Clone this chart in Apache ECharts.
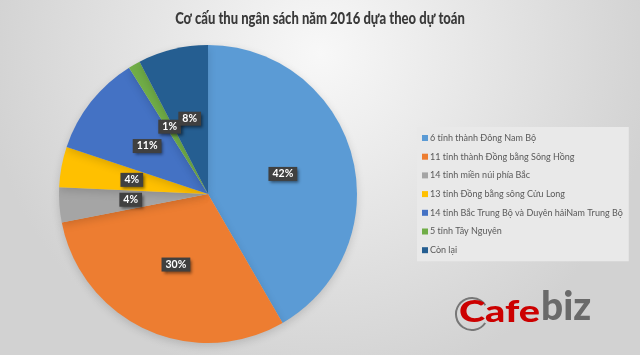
<!DOCTYPE html>
<html>
<head>
<meta charset="utf-8">
<script src="https://cdn.jsdelivr.net/npm/echarts@6/dist/echarts.min.js"></script>
<style>
html,body{margin:0;padding:0;}
#c{width:640px;height:355px;}
</style>
</head>
<body>
<div id="c"></div>
<script>
var titleText = 'Cơ cấu thu ngân sách năm 2016 dựa theo dự toán';
var categories = [
  '6 tỉnh thành Đông Nam Bộ',
  '11 tỉnh thành Đồng bằng Sông Hồng',
  '14 tỉnh miền núi phía Bắc',
  '13 tỉnh Đồng bằng sông Cửu Long',
  '14 tỉnh Bắc Trung Bộ và Duyên hảiNam Trung Bộ',
  '5 tỉnh Tây Nguyên',
  'Còn lại'
];
var values = [41.7, 30.3, 3.8, 4.4, 11.0, 1.3, 7.6];
var colors = ['#5B9BD5', '#ED7D31', '#A5A5A5', '#FFC000', '#4472C4', '#70AD47', '#255E91'];

var font = 'Lato, "Open Sans", sans-serif';
var chart = echarts.init(document.getElementById('c'), null, {renderer: 'canvas'});
chart.setOption({
  backgroundColor: {
    type: 'radial', x: 0.5, y: 0.15, r: 0.95,
    colorStops: [{offset: 0, color: '#f8f8f8'}, {offset: 1, color: '#d2d2d2'}]
  },
  animation: false,
  legend: {
    orient: 'vertical', left: 417, top: 127,
    backgroundColor: '#e9e9e9', padding: [5, 6, 5, 5],
    itemWidth: 6, itemHeight: 6, itemGap: 6.7, icon: 'rect',
    textStyle: {fontFamily: font, fontSize: 9, lineHeight: 12, color: '#595959', padding: [0, 0, 0, -3]},
    data: categories
  },
  graphic: [
    {type: 'text', x: 320, y: 19, scaleX: 0.79,
     style: {text: titleText, textAlign: 'center', textVerticalAlign: 'middle',
              fontFamily: font, fontSize: 16.5, fontWeight: 900, fill: '#3a3a3a'}},
    {type: 'arc', shape: {cx: 472, cy: 314, r: 16, startAngle: 0.6, endAngle: 5.7}, style: {fill: 'none', stroke: '#777', lineWidth: 2}},
    {type: 'text', x: 459, y: 312, scaleX: 1.32,
     style: {text: 'Cafe', textVerticalAlign: 'middle', fontFamily: font, fontSize: 30, fontWeight: 900, fill: '#cc0000'}},
    {type: 'text', x: 541, y: 307, scaleX: 0.97,
     style: {text: 'biz', textVerticalAlign: 'middle', fontFamily: font, fontSize: 40, fontWeight: 900, fill: '#6a6a6a'}}
  ],
  series: [{
    type: 'pie',
    center: [208, 194], radius: 149,
    startAngle: 90, clockwise: true,
    itemStyle: {shadowBlur: 8, shadowColor: 'rgba(0,0,0,0.15)', shadowOffsetY: 3},
    labelLayout: {hideOverlap: false},
    label: {
      position: 'inside',
      formatter: function (p) { return Math.round(p.percent) + '%'; },
      backgroundColor: '#404040', color: '#ffffff', fontFamily: font,
      fontSize: 10.5, fontWeight: 'bold', padding: [2, 4, 1, 4],
      shadowBlur: 3, shadowColor: 'rgba(0,0,0,0.5)', shadowOffsetX: 2, shadowOffsetY: 2
    },
    labelLine: {show: false},
    emphasis: {disabled: true},
    data: categories.map(function (c, i) {
      return {name: c, value: values[i], itemStyle: {color: colors[i]}};
    })
  }]
});
</script>
</body>
</html>
